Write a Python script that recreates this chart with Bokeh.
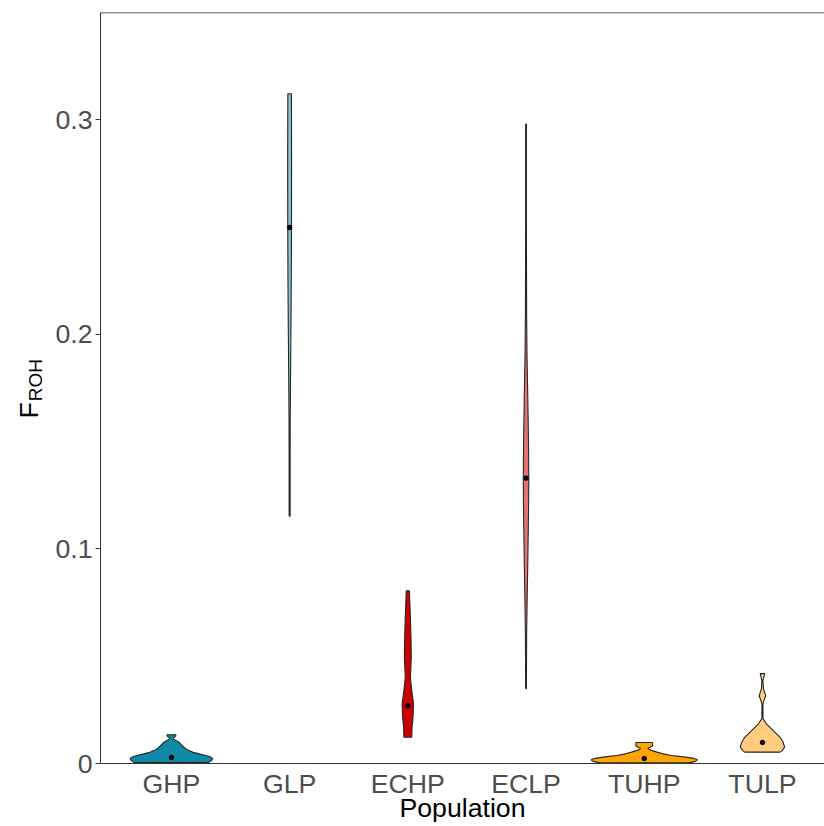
from bokeh.plotting import figure
from bokeh.models import Range1d, FixedTicker, NumeralTickFormatter, Span, LinearAxis
from bokeh.embed import file_html
from bokeh.resources import INLINE

# Populations and their fill colours
populations = ["GHP", "GLP", "ECHP", "ECLP", "TUHP", "TULP"]
fill_colors = ["#0E8AA6", "#8CC2CE", "#CC0000", "#E57373", "#FFA500", "#FFCC80"]

# Median FROH per population
medians = [0.0028, 0.2498, 0.027, 0.133, 0.0023, 0.0098]

# Kernel density profiles (FROH level, relative density) for each population
ghp_froh = [0.0005, 0.0015, 0.0023, 0.0030, 0.0037, 0.0045, 0.0052, 0.0060, 0.0070,
            0.0085, 0.0098, 0.0106, 0.0113, 0.0118, 0.0124, 0.0130, 0.0134]
ghp_density = [38, 41, 42, 40, 35, 28, 22, 18, 14, 10.5, 8, 5, 2.2, 1.8, 3.5, 4.5, 4.5]

glp_froh = [0.1153, 0.14, 0.16, 0.178, 0.20, 0.225, 0.25, 0.28, 0.30, 0.3121]
glp_density = [0.5, 0.5, 0.6, 0.9, 1.3, 1.7, 1.9, 2.0, 1.9, 1.8]

echp_froh = [0.0122, 0.0169, 0.0215, 0.0278, 0.034, 0.0401, 0.0494, 0.0587, 0.0696, 0.0805]
echp_density = [4.0, 4.3, 5.3, 5.8, 4.0, 2.6, 3.5, 3.2, 2.5, 1.6]

eclp_froh = [0.0349, 0.06, 0.078, 0.10, 0.12, 0.133, 0.15, 0.17, 0.19, 0.21, 0.25, 0.298]
eclp_density = [0.4, 0.6, 1.2, 2.0, 2.6, 2.8, 2.5, 1.8, 1.0, 0.6, 0.4, 0.4]

tuhp_froh = [0.0003, 0.0010, 0.0017, 0.0024, 0.0031, 0.0037, 0.0045, 0.0053, 0.0060,
             0.0066, 0.0071, 0.0077, 0.0083, 0.0098]
tuhp_density = [45, 52, 54, 50, 40, 28, 19, 13, 8, 4.5, 4, 6.5, 8.5, 8.5]

tulp_froh = [0.0053, 0.0060, 0.0076, 0.0099, 0.0122, 0.0153, 0.0185, 0.0209, 0.0278,
             0.0293, 0.0316, 0.0349, 0.0386, 0.0419]
tulp_density = [18, 20, 22.5, 21, 18, 11, 4, 0.6, 0.5, 1.5, 3.3, 1.0, 0.5, 2.3]

profiles = [
    (ghp_froh, ghp_density),
    (glp_froh, glp_density),
    (echp_froh, echp_density),
    (eclp_froh, eclp_density),
    (tuhp_froh, tuhp_density),
    (tulp_froh, tulp_density),
]

FONT = "Liberation Sans"
NBSP = "\u00a0"
max_half_width = 0.45  # violin width 0.9 for the densest group
peak = max(max(d) for _, d in profiles)

p = figure(
    width=824, height=826,
    x_range=Range1d(0.4, 6.525), y_range=Range1d(0, 0.35),
    min_border_left=100, min_border_right=0, min_border_top=12, min_border_bottom=63,
    output_backend="svg", toolbar_location=None,
)
p.background_fill_color = "white"
p.border_fill_color = "white"
p.outline_line_color = None
p.xgrid.visible = False
p.ygrid.visible = False

# Violins
for i, (froh, dens) in enumerate(profiles):
    centre = i + 1
    half = [max_half_width * d / peak for d in dens]
    xs = [centre - h for h in half] + [centre + h for h in reversed(half)]
    ys = list(froh) + list(reversed(froh))
    p.patch(xs, ys, fill_color=fill_colors[i], line_color="#262626", line_width=1.1)

# Medians
p.scatter(x=list(range(1, len(populations) + 1)), y=medians, size=4.5,
          fill_color="black", line_color="black")

# Panel top border
p.add_layout(Span(location=0.35, dimension="width", line_color="#222222", line_width=1.3))

# Axes
p.xaxis.ticker = FixedTicker(ticks=list(range(1, len(populations) + 1)))
p.xaxis.major_label_overrides = {i + 1: name for i, name in enumerate(populations)}
p.xaxis.major_tick_out = 0
p.xaxis.major_tick_in = 0
p.xaxis.minor_tick_line_color = None
p.xaxis.major_label_standoff = 5
p.xaxis.axis_label = "Population"
p.xaxis.axis_label_standoff = -9

p.yaxis.ticker = FixedTicker(ticks=[0, 0.1, 0.2, 0.3])
p.yaxis.formatter = NumeralTickFormatter(format="0.[0]")
p.yaxis.major_tick_out = 5
p.yaxis.major_tick_in = 0
p.yaxis.minor_tick_line_color = None
p.yaxis.major_label_standoff = 3

for ax in (p.xaxis, p.yaxis):
    ax.axis_line_color = "#333333"
    ax.major_tick_line_color = "#333333"
    ax.major_label_text_font = FONT
    ax.major_label_text_font_size = "26.7px"
    ax.major_label_text_color = "#4D4D4D"
    ax.axis_label_text_font = FONT
    ax.axis_label_text_font_style = "normal"
    ax.axis_label_text_color = "black"

p.xaxis.axis_label_text_font_size = "26.7px"

# y title F_ROH: subscript on the inner axis, main letter on an outer one
p.yaxis.axis_label = NBSP * 3 + "ROH"
p.yaxis.axis_label_text_font_size = "19px"
p.yaxis.axis_label_standoff = 6

outer = LinearAxis(ticker=FixedTicker(ticks=[]), axis_line_color=None,
                   major_tick_line_color=None, minor_tick_line_color=None,
                   axis_label="F" + NBSP * 6, axis_label_text_font=FONT,
                   axis_label_text_font_size="26.7px", axis_label_text_font_style="normal",
                   axis_label_text_color="black", axis_label_standoff=-21)
p.add_layout(outer, "left")

open("out.html", "w").write(file_html(p, INLINE))
